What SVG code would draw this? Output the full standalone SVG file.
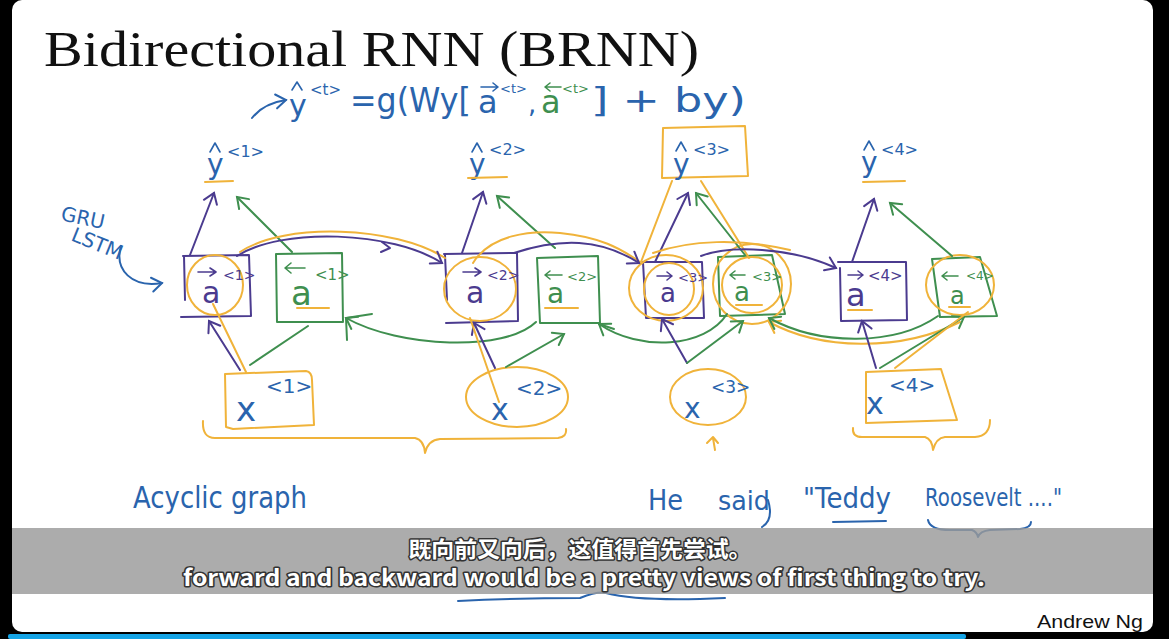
<svg xmlns="http://www.w3.org/2000/svg" width="1169" height="639" viewBox="0 0 1169 639">
<style>
.pu{stroke:#4b3b8f;fill:none;stroke-width:2;stroke-linecap:round;stroke-linejoin:round}
.gr{stroke:#3f8f4f;fill:none;stroke-width:2;stroke-linecap:round;stroke-linejoin:round}
.or{stroke:#f0b33a;fill:none;stroke-width:2;stroke-linecap:round;stroke-linejoin:round}
.bl{stroke:#2a64ad;fill:none;stroke-width:2;stroke-linecap:round;stroke-linejoin:round}
.acc{stroke-width:1.6}
.hw{font-family:"DejaVu Sans","Liberation Sans",sans-serif;}
.tb{fill:#2a64ad}
.tp{fill:#4b3b8f}
.tg{fill:#3f8f4f}
.sub{font-family:"Noto Sans CJK SC","Noto Sans",sans-serif;font-weight:bold;fill:#fff;stroke:#333;stroke-width:3;paint-order:stroke;stroke-linejoin:round}
</style>
<defs>
<marker id="ap" markerUnits="userSpaceOnUse" markerWidth="20" markerHeight="20" viewBox="-12 -10 14 20" refX="0" refY="0" orient="auto"><path d="M-10,-7 L0,0 L-10,7" fill="none" stroke="#4b3b8f" stroke-width="2" stroke-linecap="round"/></marker>
<marker id="ag" markerUnits="userSpaceOnUse" markerWidth="20" markerHeight="20" viewBox="-12 -10 14 20" refX="0" refY="0" orient="auto"><path d="M-10,-7 L0,0 L-10,7" fill="none" stroke="#3f8f4f" stroke-width="2" stroke-linecap="round"/></marker>
<marker id="ao" markerUnits="userSpaceOnUse" markerWidth="20" markerHeight="20" viewBox="-12 -10 14 20" refX="0" refY="0" orient="auto"><path d="M-10,-7 L0,0 L-10,7" fill="none" stroke="#f0b33a" stroke-width="2" stroke-linecap="round"/></marker>
<marker id="ab" markerUnits="userSpaceOnUse" markerWidth="20" markerHeight="20" viewBox="-12 -10 14 20" refX="0" refY="0" orient="auto"><path d="M-10,-7 L0,0 L-10,7" fill="none" stroke="#2a64ad" stroke-width="2" stroke-linecap="round"/></marker>
</defs>

<!-- frame -->
<rect x="0" y="0" width="1169" height="639" fill="#000"/>
<rect x="12" y="0" width="1141" height="632" rx="10" fill="#fff"/>
<rect x="8" y="634" width="958" height="5" rx="2" fill="#14a4e6"/>

<!-- title -->
<text x="44" y="66" font-family="Liberation Serif, serif" font-size="50" textLength="655" lengthAdjust="spacingAndGlyphs" fill="#111">Bidirectional RNN (BRNN)</text>

<!-- formula -->
<g id="formula" class="hw">
<path class="bl" d="M252,118 C260,108 272,102 286,100" marker-end="url(#ab)"/>
<path class="bl acc" d="M292,90 L297,82 L302,90"/>
<text x="289" y="116" class="tb" font-size="30">y</text>
<text x="310" y="95" class="tb" font-size="15">&lt;t&gt;</text>
<text x="350" y="112" class="tb" font-size="34" textLength="121" lengthAdjust="spacingAndGlyphs">=g(Wy[</text>
<path class="bl acc" d="M481,87 L498,87 M493,83 L498,87 L493,91"/>
<text x="478" y="113" class="tb" font-size="32">a</text>
<text x="500" y="93" class="tb" font-size="13">&lt;t&gt;</text>
<text x="528" y="113" class="tb" font-size="26">,</text>
<path class="gr acc" d="M545,87 L561,87 M550,83 L545,87 L550,91"/>
<text x="541" y="113" class="tg" font-size="32">a</text>
<text x="562" y="93" class="tg" font-size="13">&lt;t&gt;</text>
<text x="591" y="112" class="tb" font-size="34" textLength="155" lengthAdjust="spacingAndGlyphs">] + by)</text>
</g>

<!-- GRU LSTM -->
<g id="gru-lstm" class="hw">
<text x="60" y="220" class="tb" font-size="20" transform="rotate(12 60 220)">GRU</text>
<text x="70" y="240" class="tb" font-size="20" transform="rotate(22 70 240)">LSTM</text>
<path class="bl" d="M121,246 C114,270 132,288 162,283" marker-end="url(#ab)"/>
</g>

<!-- outputs -->
<g id="y1" class="hw">
<path class="bl acc" d="M210,152 L215,143 L220,152"/>
<text x="207" y="174" class="tb" font-size="28">y</text>
<text x="227" y="157" class="tb" font-size="16">&lt;1&gt;</text>
<path class="or" d="M205,182 L233,181"/>
</g>
<g id="y2" class="hw">
<path class="bl acc" d="M472,152 L477,143 L482,152"/>
<text x="469" y="174" class="tb" font-size="28">y</text>
<text x="489" y="155" class="tb" font-size="16">&lt;2&gt;</text>
<path class="or" d="M468,178 L507,177"/>
</g>
<g id="y3" class="hw">
<path class="or" d="M663,128 L745,126 L748,176 L662,178 Z"/>
<path class="bl acc" d="M676,151 L681,142 L686,151"/>
<text x="673" y="174" class="tb" font-size="28">y</text>
<text x="693" y="155" class="tb" font-size="16">&lt;3&gt;</text>
</g>
<g id="y4" class="hw">
<path class="bl acc" d="M864,150 L869,141 L874,150"/>
<text x="861" y="172" class="tb" font-size="28">y</text>
<text x="881" y="155" class="tb" font-size="16">&lt;4&gt;</text>
<path class="or" d="M863,182 L905,181"/>
</g>

<!-- forward activations -->
<g id="af1" class="hw">
<path class="pu" d="M183,256 L249,255 L251,316 M250,316 L181,317 M184,256 L185,300"/>
<ellipse class="or" cx="215" cy="285" rx="28" ry="30"/>
<path class="pu acc" d="M198,272 L216,272 M210,268 L216,272 L210,276"/>
<text x="202" y="303" class="tp" font-size="30">a</text>
<text x="223" y="280" class="tp" font-size="14">&lt;1&gt;</text>
</g>
<g id="af2" class="hw">
<path class="pu" d="M444,254 L517,253 L518,320 M518,321 L446,323 M445,255 L447,300"/>
<ellipse class="or" cx="480" cy="289" rx="36" ry="32"/>
<path class="pu acc" d="M463,272 L481,272 M475,268 L481,272 L475,276"/>
<text x="466" y="303" class="tp" font-size="30">a</text>
<text x="487" y="280" class="tp" font-size="14">&lt;2&gt;</text>
</g>
<g id="af3" class="hw">
<path class="pu" d="M643,262 L702,262 L704,318 L646,318 L643,262"/>
<ellipse class="or" cx="666" cy="288" rx="37" ry="33"/>
<ellipse class="or" cx="669" cy="289" rx="25" ry="26"/>
<path class="pu acc" d="M657,276 L672,276 M667,272 L672,276 L667,280"/>
<text x="660" y="302" class="tp" font-size="26">a</text>
<text x="678" y="282" class="tp" font-size="13">&lt;3&gt;</text>
</g>
<g id="af4" class="hw">
<path class="pu" d="M838,262 L906,262 L907,320 L841,321 L840,268"/>
<path class="pu acc" d="M848,275 L863,275 M858,271 L863,275 L858,279"/>
<text x="846" y="306" class="tp" font-size="32">a</text>
<text x="868" y="281" class="tp" font-size="15">&lt;4&gt;</text>
<path class="or" d="M848,310 L872,310"/>
</g>

<!-- backward activations -->
<g id="ab1" class="hw">
<path class="gr" d="M276,254 L342,253 L343,322 L277,322 Z"/>
<path class="gr acc" d="M285,268 L305,268 M291,263 L285,268 L291,273"/>
<text x="291" y="305" class="tg" font-size="34">a</text>
<text x="315" y="280" class="tg" font-size="15">&lt;1&gt;</text>
<path class="or" d="M297,308 L329,308"/>
</g>
<g id="ab2" class="hw">
<path class="gr" d="M537,258 L598,256 L600,323 L540,323 Z"/>
<path class="gr acc" d="M545,275 L562,275 M550,271 L545,275 L550,279"/>
<text x="547" y="303" class="tg" font-size="28">a</text>
<text x="567" y="281" class="tg" font-size="13">&lt;2&gt;</text>
<path class="or" d="M545,308 L578,308"/>
</g>
<g id="ab3" class="hw">
<path class="gr" d="M718,257 L772,255 L785,314 L720,316 Z"/>
<ellipse class="or" cx="752" cy="284" rx="39" ry="40"/>
<ellipse class="or" cx="752" cy="285" rx="30" ry="28"/>
<path class="gr acc" d="M730,275 L745,275 M735,271 L730,275 L735,279"/>
<text x="734" y="301" class="tg" font-size="26">a</text>
<text x="752" y="281" class="tg" font-size="13">&lt;3&gt;</text>
<path class="or" d="M736,305 L762,305"/>
</g>
<g id="ab4" class="hw">
<path class="gr" d="M932,259 L980,257 L997,316 L940,317 Z"/>
<ellipse class="or" cx="960" cy="285" rx="34" ry="30"/>
<path class="gr acc" d="M942,276 L958,276 M947,272 L942,276 L947,280"/>
<text x="950" y="304" class="tg" font-size="24">a</text>
<text x="966" y="280" class="tg" font-size="12">&lt;4&gt;</text>
<path class="or" d="M949,307 L970,307"/>
</g>

<!-- inputs -->
<g id="x1" class="hw">
<path class="or" d="M225,374 L306,371 Q312,372 312,380 L314,425 L233,429 L226,427 Z"/>
<text x="236" y="421" class="tb" font-size="34">x</text>
<text x="266" y="393" class="tb" font-size="20">&lt;1&gt;</text>
</g>
<g id="x2" class="hw">
<ellipse class="or" cx="517" cy="397" rx="51" ry="30"/>
<text x="491" y="420" class="tb" font-size="30">x</text>
<text x="516" y="395" class="tb" font-size="20">&lt;2&gt;</text>
</g>
<g id="x3" class="hw">
<ellipse class="or" cx="708" cy="397" rx="38" ry="28"/>
<text x="684" y="418" class="tb" font-size="28">x</text>
<text x="711" y="393" class="tb" font-size="17">&lt;3&gt;</text>
<path class="or" d="M715,450 L713,438 M707,443 L713,437 L718,443"/>
</g>
<g id="x4" class="hw">
<path class="or" d="M866,372 L941,369 L957,420 L866,423 Z"/>
<text x="866" y="414" class="tb" font-size="30">x</text>
<text x="889" y="392" class="tb" font-size="20">&lt;4&gt;</text>
</g>

<!-- connectors -->
<g id="connectors">
<path class="pu" d="M190,255 L214,193" marker-end="url(#ap)"/>
<path class="gr" d="M292,252 L237,197" marker-end="url(#ag)"/>
<path class="pu" d="M462,253 L483,192" marker-end="url(#ap)"/>
<path class="gr" d="M555,248 L497,196" marker-end="url(#ag)"/>
<path class="or" d="M641,262 L672,181"/>
<path class="pu" d="M655,262 L688,193" marker-end="url(#ap)"/>
<path class="or" d="M749,258 L701,181"/>
<path class="gr" d="M745,255 L696,193" marker-end="url(#ag)"/>
<path class="pu" d="M852,262 L874,199" marker-end="url(#ap)"/>
<path class="gr" d="M952,256 L890,203" marker-end="url(#ag)"/>

<path class="or" d="M240,252 C285,222 395,226 445,258"/>
<path class="pu" d="M237,256 C282,227 392,231 442,263" marker-end="url(#ap)"/>
<path class="pu" d="M382,242 L390,248 L381,252"/>
<path class="or" d="M473,263 C490,235 530,230 560,233 C600,237 620,248 640,262"/>
<path class="pu" d="M514,253 C560,238 600,238 639,263" marker-end="url(#ap)"/>
<path class="or" d="M653,253 C690,240 740,238 790,250"/>
<path class="pu" d="M701,256 C730,245 790,247 836,268" marker-end="url(#ap)"/>

<path class="gr" d="M536,322 C505,352 400,348 346,318" marker-end="url(#ag)"/>
<path class="gr" d="M346,318 L347,340 M346,318 L372,314"/>
<path class="gr" d="M727,314 C705,348 640,352 599,324" marker-end="url(#ag)"/>
<path class="gr" d="M599,324 L614,329"/>
<path class="or" d="M960,322 C900,352 820,350 769,322" marker-end="url(#ao)"/>
<path class="gr" d="M938,316 C895,346 820,346 769,318" marker-end="url(#ag)"/>

<path class="pu" d="M240,370 L209,321" marker-end="url(#ap)"/>
<path class="or" d="M246,372 L213,304"/>
<path class="gr" d="M250,365 L308,326"/>
<path class="pu" d="M495,368 L474,323" marker-end="url(#ap)"/>
<path class="or" d="M499,402 L470,318"/>
<path class="gr" d="M506,367 L564,334" marker-end="url(#ag)"/>
<path class="pu" d="M687,363 L662,319" marker-end="url(#ap)"/>
<path class="gr" d="M687,363 L743,321" marker-end="url(#ag)"/>
<path class="pu" d="M876,368 L862,321" marker-end="url(#ap)"/>
<path class="gr" d="M880,368 L964,317" marker-end="url(#ag)"/>
<path class="or" d="M895,368 L968,312"/>
</g>

<!-- braces -->
<g id="braces">
<path class="or" d="M203,421 Q202,438 215,438 L415,438 Q424,440 425,453 Q428,440 440,439 L558,438 Q567,437 566,429"/>
<path class="or" d="M853,428 Q852,437 862,437 L925,437 Q932,439 933,450 Q936,438 945,437 L975,437 Q990,436 990,420"/>
</g>

<!-- bottom notes -->
<g id="notes" class="hw">
<text x="133" y="508" class="tb" font-size="30" textLength="174" lengthAdjust="spacingAndGlyphs">Acyclic graph</text>
<text x="648" y="510" class="tb" font-size="28" textLength="35" lengthAdjust="spacingAndGlyphs">He</text>
<text x="718" y="510" class="tb" font-size="26" textLength="52" lengthAdjust="spacingAndGlyphs">said</text>
<text x="803" y="508" class="tb" font-size="28" textLength="88" lengthAdjust="spacingAndGlyphs">"Teddy</text>
<text x="925" y="506" class="tb" font-size="24" textLength="137" lengthAdjust="spacingAndGlyphs">Roosevelt ...."</text>
<path class="bl" d="M833,522 L886,521"/>
<path class="bl" d="M928,520 Q930,530 950,530 L972,530 Q977,532 978,537 Q980,531 990,530 L1020,529 Q1031,528 1031,522"/>
<path class="bl" d="M768,500 Q774,520 762,527"/>
<path class="bl" d="M458,601 Q520,598 580,598 Q598,591 606,593 Q640,602 725,598"/>
</g>

<!-- subtitles -->
<g id="subtitles">
<rect x="12" y="528" width="1141" height="66" fill="#9a9a9a" fill-opacity="0.82"/>
<text x="580" y="557" class="sub" font-size="22" text-anchor="middle" textLength="343" lengthAdjust="spacingAndGlyphs">既向前又向后，这值得首先尝试。</text>
<text x="584" y="586" class="sub" font-size="22" text-anchor="middle" textLength="802" lengthAdjust="spacingAndGlyphs">forward and backward would be a pretty views of first thing to try.</text>
</g>

<text x="1037" y="628" font-family="Liberation Sans, sans-serif" font-size="19" textLength="106" lengthAdjust="spacingAndGlyphs" fill="#111">Andrew Ng</text>
</svg>
